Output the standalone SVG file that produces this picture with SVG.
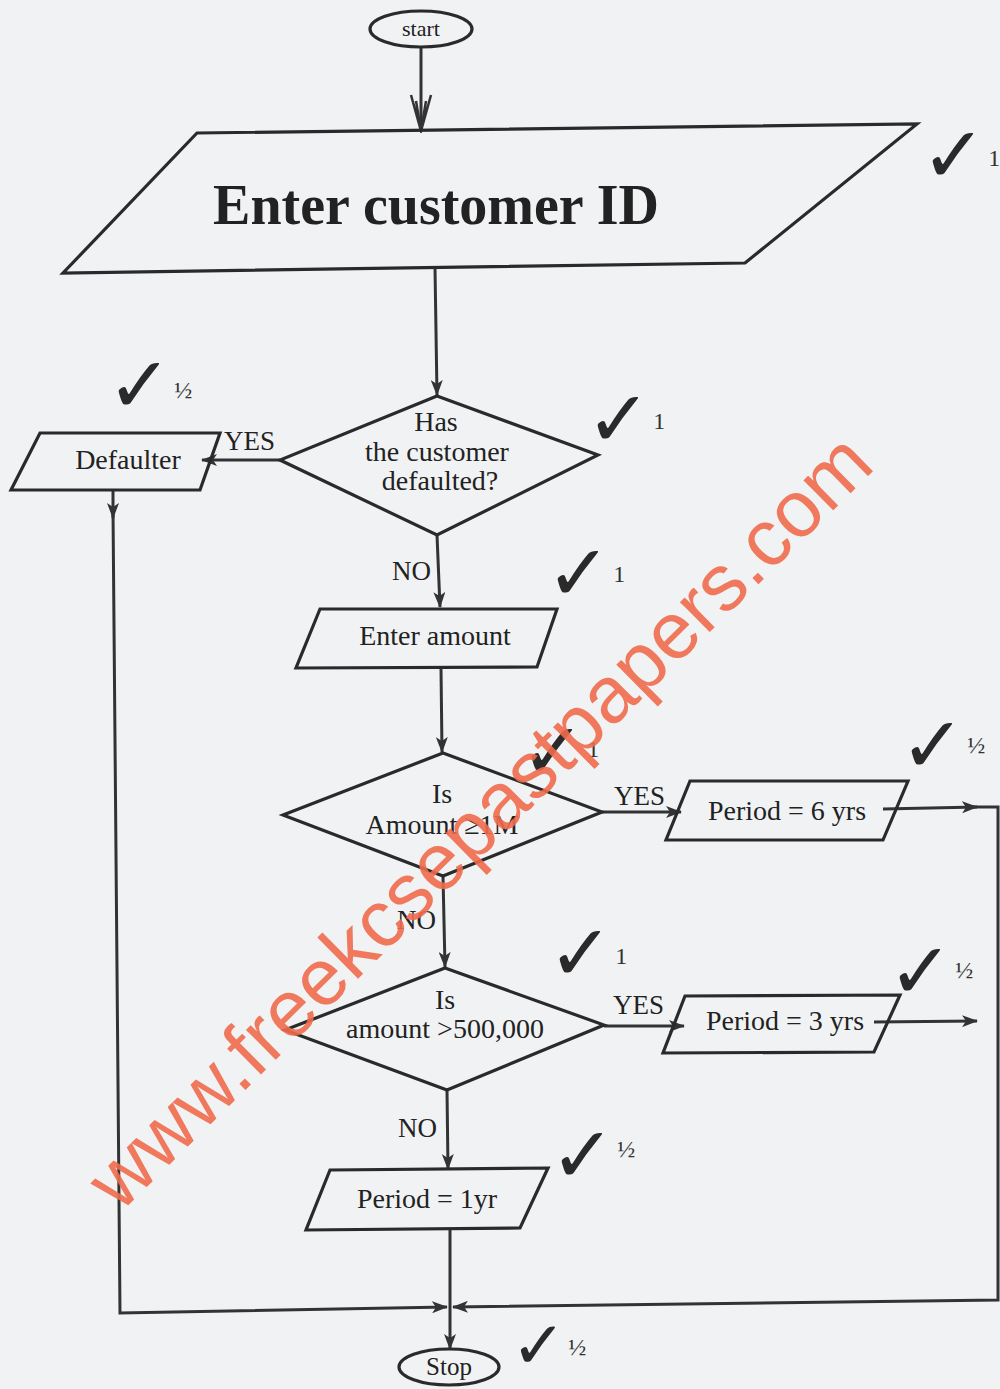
<svg xmlns="http://www.w3.org/2000/svg" width="1000" height="1389" viewBox="0 0 1000 1389">
<defs>
<marker id="arr" viewBox="0 0 16 12" refX="15" refY="6" markerWidth="16" markerHeight="12" markerUnits="userSpaceOnUse" orient="auto">
<path d="M0,0 L16,6 L0,12 L4,6 Z" fill="#333"/>
</marker>
<marker id="open" viewBox="0 0 24 40" refX="12" refY="38" markerWidth="24" markerHeight="40" markerUnits="userSpaceOnUse" orient="0">
<path d="M2,2 L12,38 L22,2 M7,8 L12,38 L17,8" fill="none" stroke="#333" stroke-width="2.5"/>
</marker>
<style>
.shape{fill:none;stroke:#2a2a2a;stroke-width:3.2;stroke-linejoin:miter}
.line{fill:none;stroke:#333;stroke-width:3}
.t{font-family:"Liberation Serif",serif;fill:#222;text-anchor:middle;font-size:28px}
.lbl{font-family:"Liberation Serif",serif;fill:#222;font-size:27px}
.chk{font-family:"DejaVu Sans",sans-serif;fill:#2a2a2a;font-size:78px}
.mk{font-family:"Liberation Serif",serif;fill:#333;font-size:24px}
</style>
</defs>
<rect width="1000" height="1389" fill="#f1f2f4"/>

<g id="connectors">
<line class="line" x1="421" y1="47" x2="421" y2="131" marker-end="url(#open)"/>
<line class="line" x1="435" y1="268" x2="437" y2="395" marker-end="url(#arr)"/>
<line class="line" x1="280" y1="460" x2="202" y2="460" marker-end="url(#arr)"/>
<polyline class="line" points="113,490 113,518"  marker-end="url(#arr)"/>
<polyline class="line" points="113,510 120,1313 447,1307" marker-end="url(#arr)"/>
<line class="line" x1="437" y1="535" x2="440" y2="607" marker-end="url(#arr)"/>
<line class="line" x1="441" y1="668" x2="442" y2="752" marker-end="url(#arr)"/>
<line class="line" x1="602" y1="812" x2="681" y2="812" marker-end="url(#arr)"/>
<line class="line" x1="883" y1="809" x2="977" y2="807" marker-end="url(#arr)"/>
<line class="line" x1="443" y1="876" x2="445" y2="967" marker-end="url(#arr)"/>
<line class="line" x1="604" y1="1026" x2="684" y2="1026" marker-end="url(#arr)"/>
<line class="line" x1="874" y1="1022" x2="977" y2="1021" marker-end="url(#arr)"/>
<polyline class="line" points="970,807 998,807 998,1300 453,1307" marker-end="url(#arr)"/>
<line class="line" x1="447" y1="1090" x2="448" y2="1169" marker-end="url(#arr)"/>
<line class="line" x1="450" y1="1230" x2="450" y2="1349" marker-end="url(#arr)"/>
<text class="lbl" x="224" y="450">YES</text>
<text class="lbl" x="392" y="580">NO</text>
<text class="lbl" x="614" y="805">YES</text>
<text class="lbl" x="397" y="929">NO</text>
<text class="lbl" x="613" y="1014">YES</text>
<text class="lbl" x="398" y="1137">NO</text>
</g>

<g id="start">
<ellipse class="shape" cx="421" cy="29" rx="51" ry="18"/>
<text class="t" x="421" y="36" style="font-size:22px">start</text>
</g>

<g id="enter-id">
<polygon class="shape" points="197,133 917,124 745,263 63,273"/>
<text class="t" x="436" y="224" style="font-size:56px;font-weight:bold">Enter customer ID</text>
</g>

<g id="defaulted">
<polygon class="shape" points="437,396 598,455 437,535 280,460"/>
<text class="t" x="436" y="431">Has</text>
<text class="t" x="437" y="461">the customer</text>
<text class="t" x="440" y="490">defaulted?</text>
</g>

<g id="defaulter">
<polygon class="shape" points="40,433 220,433 200,490 11,490"/>
<text class="t" x="128" y="469">Defaulter</text>
</g>

<g id="enter-amount">
<polygon class="shape" points="320,609 557,609 537,667 296,668"/>
<text class="t" x="435" y="645">Enter amount</text>
</g>

<g id="amount-1m">
<polygon class="shape" points="443,753 602,812 443,876 283,815"/>
<text class="t" x="442" y="803">Is</text>
<text class="t" x="442" y="834">Amount ≥1M</text>
</g>

<g id="period-6">
<polygon class="shape" points="690,781 908,781 883,840 666,840"/>
<text class="t" x="787" y="820">Period = 6 yrs</text>
</g>

<g id="amount-500k">
<polygon class="shape" points="445,968 604,1025 447,1090 285,1030"/>
<text class="t" x="445" y="1009">Is</text>
<text class="t" x="445" y="1038">amount &gt;500,000</text>
</g>

<g id="period-3">
<polygon class="shape" points="685,996 900,995 874,1052 663,1053"/>
<text class="t" x="785" y="1030">Period = 3 yrs</text>
</g>

<g id="period-1">
<polygon class="shape" points="330,1170 548,1168 520,1228 306,1230"/>
<text class="t" x="427" y="1208">Period = 1yr</text>
</g>

<g id="stop">
<ellipse class="shape" cx="449" cy="1367" rx="50" ry="18"/>
<text class="t" x="449" y="1375" style="font-size:25px">Stop</text>
</g>

<g id="marks">
<text class="chk" x="921" y="182">✓<tspan class="mk" dx="2" dy="-16">1</tspan></text>
<text class="chk" x="107" y="412">✓<tspan class="mk" dx="2" dy="-14">½</tspan></text>
<text class="chk" x="586" y="446">✓<tspan class="mk" dx="2" dy="-17">1</tspan></text>
<text class="chk" x="546" y="600">✓<tspan class="mk" dx="2" dy="-18">1</tspan></text>
<text class="chk" x="520" y="778">✓<tspan class="mk" dx="2" dy="-21">1</tspan></text>
<text class="chk" x="900" y="772">✓<tspan class="mk" dx="2" dy="-19">½</tspan></text>
<text class="chk" x="548" y="980">✓<tspan class="mk" dx="2" dy="-16">1</tspan></text>
<text class="chk" x="888" y="998">✓<tspan class="mk" dx="2" dy="-20">½</tspan></text>
<text class="chk" x="550" y="1182">✓<tspan class="mk" dx="2" dy="-25">½</tspan></text>
<text class="chk" x="511" y="1368" style="font-size:66px">✓<tspan class="mk" dx="2" dy="-13">½</tspan></text>
</g>

<text x="480" y="848" transform="rotate(-44.6 480 822)" font-family="Liberation Sans, Arial, sans-serif" font-size="80" fill="#ef6a4c" fill-opacity="0.9" text-anchor="middle">www.freekcsepastpapers.com</text>
</svg>
